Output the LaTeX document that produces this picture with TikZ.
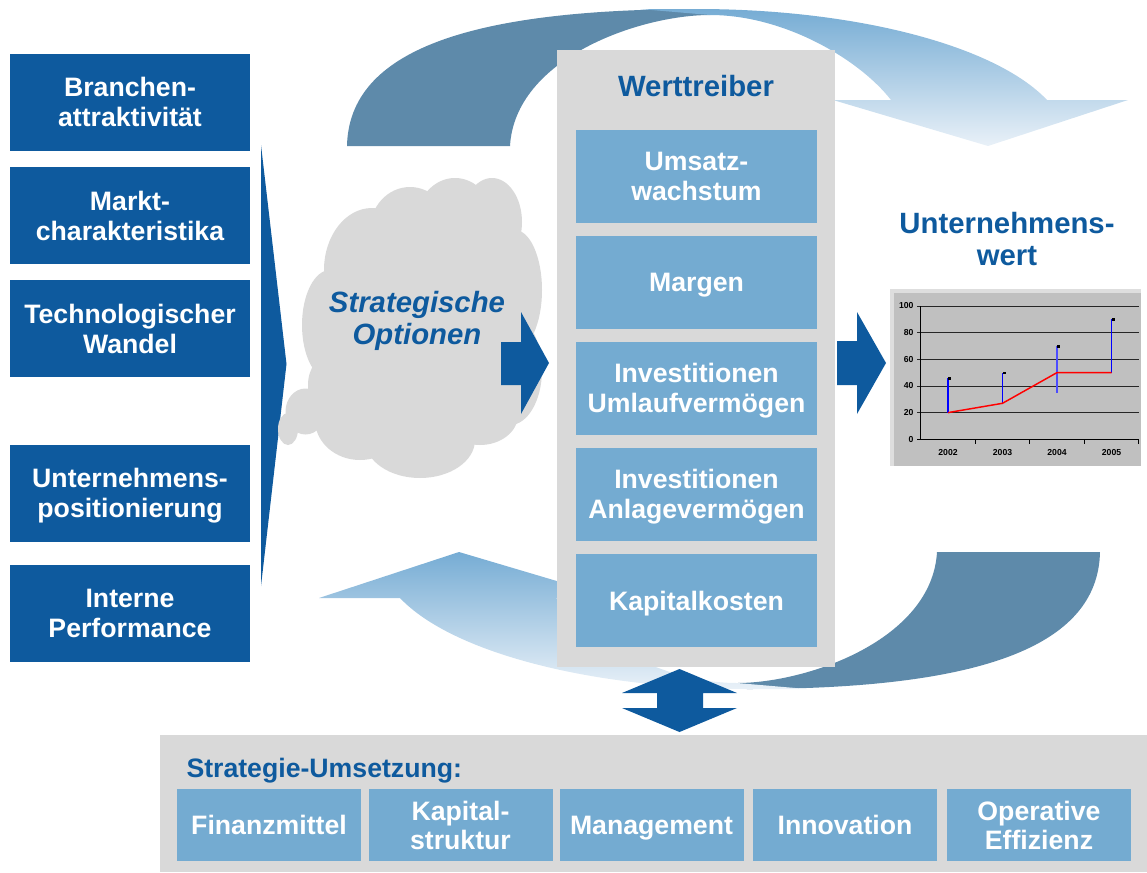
\documentclass[tikz,border=0pt]{standalone}
\usepackage{fontspec}
\setmainfont{Liberation Sans}

\definecolor{wtBlue}{RGB}{14,90,158}
\definecolor{boxBlue}{RGB}{116,171,209}
\definecolor{panelGray}{RGB}{217,217,217}
\definecolor{chartGray}{RGB}{192,192,192}
\definecolor{chartEdge}{RGB}{222,222,222}
\definecolor{arcDark}{RGB}{94,138,170}
\definecolor{arcMid}{RGB}{118,172,212}
\definecolor{arcLight}{RGB}{233,241,248}

\tikzset{every picture/.style={line width=0.75pt}}
\tikzset{
  leftbox/.style={fill=wtBlue, text=white, align=center, inner sep=0pt,
    minimum width=180pt, minimum height=72.75pt, text depth=0pt,
    font=\fontsize{20}{22.5}\selectfont\bfseries},
  drvbox/.style={fill=boxBlue, text=white, align=center, inner sep=0pt,
    minimum width=180.75pt, minimum height=69.75pt, text depth=0pt,
    font=\fontsize{20}{22.5}\selectfont\bfseries},
  implbox/.style={fill=boxBlue, text=white, align=center, inner sep=0pt,
    minimum width=138pt, minimum height=54pt, text depth=0pt,
    font=\fontsize{20}{21.75}\selectfont\bfseries},
  blueTitle/.style={text=wtBlue, align=center, inner sep=0.75pt,
    font=\fontsize{22}{23.75}\selectfont\bfseries},
  tickLabel/.style={inner sep=0.75pt, font=\fontsize{6.5}{7}\selectfont\bfseries}
}

\begin{document}
\begin{tikzpicture}[x=0.75pt,y=0.75pt,yscale=-1,xscale=1]
\useasboundingbox (0,0) rectangle (1147,872);

%Shape: Curved Down Arrow (back part)
\fill [arcDark] (347,146) .. controls (349,50) and (470,9) .. (700,9) -- (710,15) .. controls (640,15) and (515,58) .. (510,146) -- cycle ;
%Shape: Curved Down Arrow (front part)
\shade [top color=arcMid, bottom color=arcLight] (640,9) -- (697,9) .. controls (854,9) and (995,45) .. (1047,100) -- (1128,100) -- (988,146) -- (833,100) -- (891,100) .. controls (860,60) and (785,15) .. (710,15) -- cycle ;

%Shape: Curved Up Arrow (back part)
\fill [arcDark] (1100,552) .. controls (1098,648) and (977,689) .. (747,689) -- (737,683) .. controls (807,683) and (932,640) .. (937,552) -- cycle ;
%Shape: Curved Up Arrow (front part)
\shade [top color=arcMid, bottom color=arcLight] (807,689) -- (750,689) .. controls (593,689) and (452,653) .. (400,598) -- (319,598) -- (459,552) -- (614,598) -- (556,598) .. controls (587,638) and (662,683) .. (737,683) -- cycle ;

% Left column
\node [leftbox] (branche) at (130,102) {Branchen-\\attraktivität};
\node [leftbox] (markt) at (130,215.5) {Markt-\\charakteristika};
\node [leftbox] (technologie) at (130,328.5) {Technologischer\\Wandel};
\node [leftbox] (positionierung) at (130,493) {Unternehmens-\\positionierung};
\node [leftbox] (performance) at (130,613.5) {Interne\\Performance};

%Shape: Chevron
\fill [wtBlue] (261,145) -- (286.5,364) -- (261,586) -- cycle ;

%Shape: Cloud
\fill [panelGray] (422,330) ellipse [x radius=112, y radius=115];
\fill [panelGray] (372,270) ellipse [x radius=48, y radius=62];
\fill [panelGray] (410,230) ellipse [x radius=40, y radius=43];
\fill [panelGray] (455,220) ellipse [x radius=38, y radius=42];
\fill [panelGray] (492,222) ellipse [x radius=30, y radius=44];
\fill [panelGray] (515,290) ellipse [x radius=27, y radius=60];
\fill [panelGray] (510,370) ellipse [x radius=32, y radius=55];
\fill [panelGray] (480,415) ellipse [x radius=38, y radius=30];
\fill [panelGray] (420,440) ellipse [x radius=55, y radius=38];
\fill [panelGray] (360,420) ellipse [x radius=45, y radius=40];
\fill [panelGray] (330,325) ellipse [x radius=28, y radius=55];
\fill [panelGray] (330,385) ellipse [x radius=22, y radius=30];
\fill [panelGray] (305.5,411.5) ellipse [x radius=20, y radius=23];
\fill [panelGray] (288,429) ellipse [x radius=10, y radius=16];

% Text Node
\node [blueTitle, font=\fontsize{22}{23.75}\selectfont\bfseries\itshape] (optionen) at (417,321) {Strategische\\Optionen};

%Shape: Right Arrow
\fill [wtBlue] (501,342) -- (521,342) -- (521,312) -- (549,363) -- (521,414) -- (521,385) -- (501,385) -- cycle ;

%Shape: Rectangle
\fill [panelGray] (557,50) rectangle (835,667);
% Text Node
\node [blueTitle] (werttreiber) at (696,86) {Werttreiber};
\node [drvbox] (umsatz) at (696.5,176.5) {Umsatz-\\wachstum};
\node [drvbox] (margen) at (696.5,282) {Margen};
\node [drvbox] (umlauf) at (696.5,388) {Investitionen\\Umlaufvermögen};
\node [drvbox] (anlage) at (696.5,494) {Investitionen\\Anlagevermögen};
\node [drvbox] (kapitalkosten) at (696.5,600.5) {Kapitalkosten};

%Shape: Right Arrow
\fill [wtBlue] (837,341) -- (857,341) -- (857,312) -- (886,363) -- (857,414) -- (857,385) -- (837,385) -- cycle ;

% Text Node
\node [blueTitle] (unternehmenswert) at (1007,239) {Unternehmens-\\wert};

%Shape: Chart Area
\fill [chartEdge] (890,289) rectangle (1141,466);
\fill [chartGray] (894,293) rectangle (1141,466);
%Straight Lines (grid)
\draw [black!85] (917,306) -- (1138.5,306) ;
\draw [black!85] (917,332.6) -- (1138.5,332.6) ;
\draw [black!85] (917,359.3) -- (1138.5,359.3) ;
\draw [black!85] (917,386) -- (1138.5,386) ;
\draw [black!85] (917,412.6) -- (1138.5,412.6) ;
\draw [black] (920.7,306) -- (920.7,439.3) ;
\draw [black] (917,439.3) -- (1138.5,439.3) ;
\draw [black] (975.3,439.3) -- (975.3,444) ;
\draw [black] (1029.8,439.3) -- (1029.8,444) ;
\draw [black] (1084.2,439.3) -- (1084.2,444) ;
\draw [black] (1138.5,439.3) -- (1138.5,444) ;
%Straight Lines (ranges)
\draw [blue, line width=1.1pt] (948,412.6) -- (948,378) ;
\draw [blue, line width=1.1pt] (1002.5,403.3) -- (1002.5,372.6) ;
\draw [blue!70!white, line width=1.1pt] (1057,392.6) -- (1057,346) ;
\draw [blue, line width=1.1pt] (1111.5,372.6) -- (1111.5,319.3) ;
\fill [black] (948,377) rectangle (951,379.5);
\fill [black] (1002.5,371.6) rectangle (1005.5,374);
\fill [black] (1057,345) rectangle (1060,347.5);
\fill [black] (1111.5,318.3) rectangle (1114.5,320.8);
%Straight Lines (value)
\draw [red, line width=1.1pt] (948,412.6) -- (1002.5,403.3) -- (1057,372.6) -- (1111.5,372.6) ;

% Text Node
\node [tickLabel, anchor=east] (v100) at (915,306) {100};
\node [tickLabel, anchor=east] (v80) at (915,332.6) {80};
\node [tickLabel, anchor=east] (v60) at (915,359.3) {60};
\node [tickLabel, anchor=east] (v40) at (915,386) {40};
\node [tickLabel, anchor=east] (v20) at (915,412.6) {20};
\node [tickLabel, anchor=east] (v0) at (915,439.3) {0};
\node [tickLabel] (y2002) at (948,453) {2002};
\node [tickLabel] (y2003) at (1002.5,453) {2003};
\node [tickLabel] (y2004) at (1057,453) {2004};
\node [tickLabel] (y2005) at (1111.5,453) {2005};

%Shape: Up Down Arrow
\fill [wtBlue] (679.5,669) -- (737,693) -- (703,693) -- (703,708) -- (737,708) -- (679.5,732) -- (622,708) -- (657,708) -- (657,693) -- (622,693) -- cycle ;

%Shape: Rectangle
\fill [panelGray] (160,735) rectangle (1147,872);
% Text Node
\node [blueTitle, anchor=west, font=\fontsize{20}{22}\selectfont\bfseries] (umsetzung) at (185,771) {Strategie-Umsetzung:};
\node [implbox] (finanzmittel) at (269,825) {Finanzmittel};
\node [implbox] (kapitalstruktur) at (460.5,825) {Kapital-\\struktur};
\node [implbox] (management) at (651.5,825) {Management};
\node [implbox] (innovation) at (845,825) {Innovation};
\node [implbox] (effizienz) at (1039,825) {Operative\\Effizienz};

\end{tikzpicture}
\end{document}
